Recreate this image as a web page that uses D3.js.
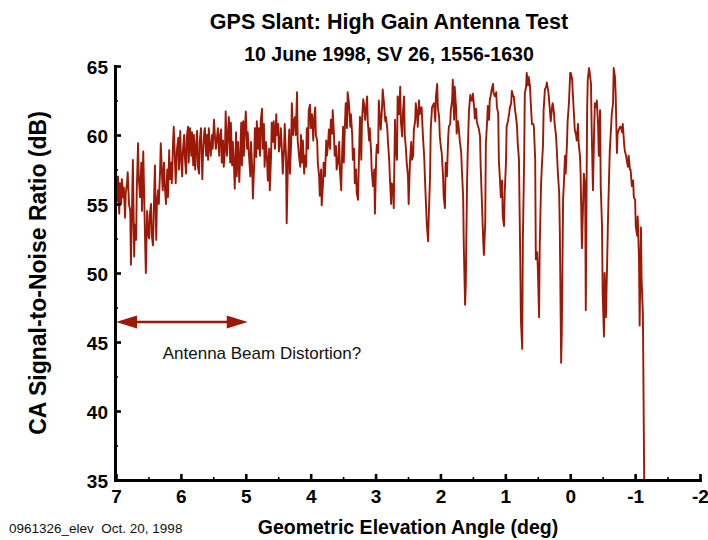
<!DOCTYPE html>
<html><head><meta charset="utf-8">
<script src="https://cdn.jsdelivr.net/npm/d3@7"></script>
<style>
html,body{margin:0;padding:0;background:#fff;}
svg{display:block;}
text{font-family:"Liberation Sans",Arial,Helvetica,sans-serif;}
</style></head><body>
<svg id="chart" width="708" height="540"></svg>
<script>
const titleText = "GPS Slant: High Gain Antenna Test";
const subtitleText = "10 June 1998, SV 26, 1556-1630";
const xAxisTitle = "Geometric Elevation Angle (deg)";
const yAxisTitle = "CA Signal-to-Noise Ratio (dB)";
const footnote = "0961326_elev  Oct. 20, 1998";
const annotationText = "Antenna Beam Distortion?";

const xMajorTicks = [7, 6, 5, 4, 3, 2, 1, 0, -1, -2];
const xMinorTicks = [6.5, 5.5, 4.5, 3.5, 2.5, 1.5, 0.5, -0.5, -1.5];
const yMajorTicks = [35, 40, 45, 50, 55, 60, 65];
const yMinorTicks = [37.5, 42.5, 47.5, 52.5, 57.5, 62.5];

// annotation arrow (elevation span, dB level), text anchor (elevation, dB)
const arrowSpan = [7.0, 4.97];
const arrowLevel = 46.45;
const annotationAt = [6.28, 43.8];

// [geometric elevation angle (deg), CA SNR (dB)]
const snrTrace = [
[7.00,56.6],[6.98,55.2],[6.97,57.0],[6.95,54.3],[6.94,56.5],[6.92,55.0],[6.91,56.8],[6.89,55.5],[6.88,56.2],[6.86,54.0],
[6.85,55.8],[6.83,56.5],[6.82,57.3],[6.80,55.0],[6.78,54.5],[6.77,50.6],[6.75,55.5],[6.74,58.2],[6.72,51.2],[6.71,53.5],
[6.69,52.4],[6.68,56.0],[6.66,59.4],[6.65,57.0],[6.63,55.5],[6.61,58.0],[6.60,54.5],[6.58,58.8],[6.57,56.5],[6.55,52.0],
[6.54,50.0],[6.52,54.5],[6.51,53.0],[6.49,52.5],[6.48,54.2],[6.46,55.0],[6.45,52.8],[6.43,52.0],[6.41,56.0],[6.40,57.8],
[6.38,52.4],[6.37,55.0],[6.35,56.0],[6.34,55.0],[6.32,57.5],[6.31,59.4],[6.29,57.0],[6.28,56.0],[6.26,58.0],[6.25,56.5],
[6.23,55.0],[6.21,57.5],[6.20,55.5],[6.18,58.9],[6.17,56.8],[6.15,58.0],[6.14,56.5],[6.12,59.5],[6.11,60.6],[6.09,58.0],
[6.08,56.5],[6.06,59.0],[6.04,59.8],[6.03,57.5],[6.01,60.3],[6.00,58.5],[5.98,57.0],[5.97,58.8],[5.95,60.0],[5.94,58.5],
[5.92,57.2],[5.91,59.8],[5.89,60.6],[5.88,58.0],[5.86,60.5],[5.84,58.5],[5.83,60.2],[5.81,57.8],[5.80,60.0],[5.78,57.5],
[5.77,59.0],[5.75,60.3],[5.74,57.8],[5.72,57.2],[5.71,59.5],[5.69,60.5],[5.67,56.8],[5.66,58.5],[5.64,60.2],[5.63,60.5],
[5.61,58.5],[5.60,60.0],[5.58,58.2],[5.57,60.5],[5.55,59.0],[5.54,58.5],[5.52,60.0],[5.51,59.0],[5.49,61.1],[5.47,59.5],
[5.46,59.0],[5.44,60.0],[5.43,60.5],[5.41,58.5],[5.40,59.8],[5.38,60.4],[5.37,58.0],[5.35,59.6],[5.34,57.7],[5.32,59.0],
[5.31,61.7],[5.29,58.5],[5.27,60.5],[5.26,61.3],[5.24,58.0],[5.23,60.9],[5.21,57.8],[5.20,59.5],[5.18,57.5],[5.17,56.1],
[5.15,60.2],[5.14,57.0],[5.12,59.5],[5.10,56.6],[5.09,58.0],[5.07,60.9],[5.06,57.8],[5.04,61.0],[5.03,58.5],[5.01,60.8],
[5.00,61.7],[4.98,59.0],[4.97,60.2],[4.95,58.5],[4.93,57.0],[4.92,59.5],[4.90,57.5],[4.89,55.4],[4.87,58.0],[4.86,60.5],
[4.84,58.4],[4.83,61.0],[4.81,59.0],[4.80,60.5],[4.78,58.5],[4.77,61.0],[4.75,61.9],[4.74,59.0],[4.72,60.8],[4.71,57.7],
[4.69,59.5],[4.67,58.0],[4.66,56.7],[4.64,59.0],[4.63,56.0],[4.61,58.5],[4.60,60.9],[4.58,59.5],[4.57,61.0],[4.55,59.0],
[4.53,61.5],[4.52,60.0],[4.50,60.8],[4.49,58.8],[4.47,59.5],[4.46,60.5],[4.44,58.5],[4.43,57.2],[4.41,59.0],[4.40,60.8],
[4.38,58.4],[4.37,53.6],[4.35,58.0],[4.33,60.4],[4.32,57.2],[4.30,59.5],[4.29,62.3],[4.27,60.0],[4.26,61.0],[4.24,61.3],
[4.23,60.0],[4.21,63.1],[4.20,59.6],[4.18,58.5],[4.16,57.7],[4.15,60.0],[4.13,58.0],[4.12,59.6],[4.10,57.2],[4.09,58.5],
[4.07,57.7],[4.06,60.5],[4.04,59.0],[4.03,61.8],[4.01,62.2],[4.00,60.5],[3.98,61.5],[3.96,59.6],[3.95,61.0],[3.93,62.0],
[3.92,60.0],[3.90,59.6],[3.89,58.0],[3.87,57.0],[3.86,55.6],[3.84,57.5],[3.83,54.9],[3.81,56.5],[3.80,58.0],[3.78,57.0],
[3.76,59.6],[3.75,58.5],[3.73,59.4],[3.72,60.4],[3.70,59.0],[3.69,61.1],[3.67,60.1],[3.66,61.8],[3.64,59.9],[3.63,58.5],
[3.61,59.2],[3.60,57.5],[3.58,58.0],[3.56,59.5],[3.55,57.5],[3.53,56.0],[3.52,58.0],[3.50,60.6],[3.49,58.0],[3.47,61.0],
[3.46,62.3],[3.44,60.5],[3.43,63.1],[3.41,62.3],[3.39,60.6],[3.38,61.5],[3.36,60.0],[3.35,58.2],[3.33,59.0],[3.32,56.5],
[3.30,57.5],[3.29,55.8],[3.27,55.3],[3.26,57.5],[3.24,61.3],[3.22,58.2],[3.21,61.0],[3.19,62.6],[3.18,62.3],[3.16,61.1],
[3.15,61.8],[3.13,62.8],[3.12,61.0],[3.10,59.6],[3.09,60.5],[3.07,58.9],[3.06,57.5],[3.04,56.3],[3.02,57.5],[3.01,54.3],
[2.99,58.5],[2.98,59.3],[2.96,58.7],[2.95,62.5],[2.93,61.0],[2.92,60.4],[2.90,62.0],[2.89,63.3],[2.87,62.3],[2.85,61.0],
[2.84,61.3],[2.82,60.5],[2.81,59.6],[2.79,58.2],[2.78,57.0],[2.76,55.0],[2.75,56.5],[2.73,56.3],[2.72,54.7],[2.70,61.1],
[2.69,59.0],[2.67,58.2],[2.66,62.8],[2.64,61.5],[2.62,63.5],[2.61,61.0],[2.59,59.9],[2.58,61.5],[2.56,62.8],[2.55,60.0],
[2.53,58.9],[2.52,58.0],[2.50,57.0],[2.49,55.0],[2.47,58.0],[2.45,59.5],[2.44,58.2],[2.42,58.5],[2.41,60.4],[2.39,61.0],
[2.38,62.3],[2.36,61.5],[2.35,60.6],[2.33,62.5],[2.32,61.5],[2.30,62.0],[2.29,62.0],[2.27,59.9],[2.25,58.4],[2.24,57.0],
[2.22,54.6],[2.21,53.5],[2.19,52.3],[2.18,54.1],[2.16,57.0],[2.15,60.4],[2.13,62.0],[2.12,62.1],[2.10,62.3],[2.08,61.0],
[2.07,62.8],[2.05,63.7],[2.04,62.0],[2.02,61.3],[2.01,59.9],[1.99,59.0],[1.98,58.7],[1.96,57.0],[1.95,55.5],[1.93,54.7],
[1.92,58.0],[1.90,57.0],[1.88,59.9],[1.87,60.6],[1.85,60.8],[1.84,61.8],[1.82,62.5],[1.81,64.0],[1.79,61.1],[1.78,63.5],
[1.76,62.0],[1.75,60.1],[1.73,61.0],[1.72,60.6],[1.70,59.5],[1.68,58.7],[1.67,57.5],[1.65,55.5],[1.64,51.9],[1.62,47.7],
[1.61,49.1],[1.59,56.5],[1.58,58.7],[1.56,61.8],[1.54,62.9],[1.53,62.5],[1.51,62.5],[1.50,63.0],[1.48,62.0],[1.47,61.2],
[1.45,61.9],[1.44,61.0],[1.42,60.6],[1.41,60.5],[1.39,59.9],[1.38,57.7],[1.36,55.0],[1.34,52.2],[1.33,51.3],[1.31,53.6],
[1.30,59.4],[1.28,61.0],[1.27,62.1],[1.25,61.1],[1.24,62.5],[1.22,63.0],[1.21,63.3],[1.19,63.7],[1.18,63.0],[1.16,62.8],
[1.14,63.1],[1.13,62.0],[1.11,61.6],[1.10,58.2],[1.08,56.5],[1.07,55.5],[1.05,56.7],[1.04,54.1],[1.02,53.4],[1.01,55.8],
[0.99,58.0],[0.98,60.6],[0.96,61.0],[0.94,61.6],[0.93,62.0],[0.91,62.3],[0.90,63.2],[0.88,62.8],[0.87,62.8],[0.85,61.8],
[0.84,61.5],[0.82,60.6],[0.81,59.5],[0.79,58.2],[0.77,51.0],[0.76,46.6],[0.74,44.5],[0.73,52.4],[0.71,58.2],[0.70,63.0],
[0.68,63.5],[0.67,64.5],[0.65,63.6],[0.64,64.2],[0.62,63.5],[0.61,62.5],[0.59,60.8],[0.57,60.8],[0.56,60.6],[0.54,58.2],
[0.53,51.0],[0.51,51.5],[0.50,50.5],[0.48,46.8],[0.47,51.9],[0.45,56.3],[0.44,57.5],[0.42,59.2],[0.41,61.8],[0.39,63.3],
[0.37,63.5],[0.36,63.8],[0.34,63.2],[0.33,62.8],[0.31,61.6],[0.30,61.0],[0.28,62.0],[0.27,62.3],[0.25,61.6],[0.24,60.8],
[0.22,60.0],[0.21,59.2],[0.19,57.2],[0.17,55.8],[0.16,53.0],[0.14,43.5],[0.13,45.7],[0.11,55.3],[0.10,56.3],[0.08,58.5],
[0.07,57.2],[0.05,59.4],[0.04,61.0],[0.02,62.3],[0.00,64.5],[-0.01,64.5],[-0.03,64.0],[-0.04,63.0],[-0.06,61.3],[-0.07,60.4],
[-0.09,60.0],[-0.10,59.6],[-0.12,60.8],[-0.13,59.4],[-0.15,58.5],[-0.16,57.2],[-0.18,51.8],[-0.20,55.3],[-0.21,57.2],[-0.23,56.3],
[-0.24,47.3],[-0.26,61.6],[-0.27,64.0],[-0.29,64.85],[-0.30,64.5],[-0.32,63.7],[-0.33,60.6],[-0.35,56.0],[-0.37,60.6],[-0.38,62.3],
[-0.40,62.0],[-0.41,62.5],[-0.43,60.6],[-0.44,58.5],[-0.46,61.8],[-0.47,56.3],[-0.49,53.4],[-0.50,48.5],[-0.52,45.4],[-0.53,50.0],
[-0.55,46.8],[-0.57,51.0],[-0.58,53.4],[-0.60,57.2],[-0.61,58.9],[-0.63,60.6],[-0.64,61.5],[-0.66,62.3],[-0.67,64.85],[-0.69,64.2],
[-0.70,63.0],[-0.72,58.7],[-0.73,60.1],[-0.75,60.4],[-0.77,60.6],[-0.78,60.6],[-0.80,60.2],[-0.81,60.8],[-0.83,59.4],[-0.84,58.9],
[-0.86,58.5],[-0.87,58.2],[-0.89,57.7],[-0.90,58.5],[-0.92,57.5],[-0.93,57.5],[-0.95,56.3],[-0.97,56.7],[-0.98,55.5],[-1.00,55.3],
[-1.01,53.4],[-1.03,52.7],[-1.04,54.1],[-1.06,51.0],[-1.07,46.2],[-1.09,53.3],[-1.10,49.5],[-1.12,47.0],[-1.14,35.0]
];

const red = "#9b1906";
const svg = d3.select("#chart");

const x = d3.scaleLinear().domain([7, -2]).range([116, 700]);
const y = d3.scaleLinear().domain([35, 65]).range([480, 66]);

// trace
const line = d3.line().x(d => x(d[0])).y(d => y(d[1]));
svg.append("path")
  .datum(snrTrace)
  .attr("d", line)
  .attr("fill", "none")
  .attr("stroke", red)
  .attr("stroke-width", 1.9)
  .attr("stroke-linejoin", "round");

// axes
const fmt = d => String(d);
const styleAxis = g => {
  g.select(".domain").attr("stroke", "#000").attr("stroke-width", 3).attr("stroke-linecap", "square");
  g.selectAll(".tick line").attr("stroke", "#000").attr("stroke-width", 2.6);
  g.selectAll(".tick text").attr("fill", "#000")
    .style("font-family", '"Liberation Sans", Arial, sans-serif')
    .style("font-weight", "bold").style("font-size", "19px");
};

const gyMinor = svg.append("g").attr("transform", `translate(${x(7) - 1},0)`)
  .call(d3.axisLeft(y).tickValues(yMinorTicks).tickSizeInner(-3).tickSizeOuter(0).tickFormat(""));
gyMinor.select(".domain").remove();
gyMinor.selectAll(".tick line").attr("stroke", "#000").attr("stroke-width", 1.6);

const gxMinor = svg.append("g").attr("transform", `translate(0,${y(35)})`)
  .call(d3.axisBottom(x).tickValues(xMinorTicks).tickSizeInner(-3).tickSizeOuter(0).tickFormat(""));
gxMinor.select(".domain").remove();
gxMinor.selectAll(".tick line").attr("stroke", "#000").attr("stroke-width", 1.6);

const gy = svg.append("g").attr("transform", `translate(${x(7) - 1},0)`)
  .call(d3.axisLeft(y).tickValues(yMajorTicks).tickSizeInner(-6).tickSizeOuter(0).tickPadding(7).tickFormat(fmt))
  .call(styleAxis);
gy.selectAll(".tick text").attr("dy", "0.40em");

const gx = svg.append("g").attr("transform", `translate(0,${y(35)})`)
  .call(d3.axisBottom(x).tickValues(xMajorTicks).tickSizeInner(-6).tickSizeOuter(0).tickPadding(10).tickFormat(fmt))
  .call(styleAxis);

// titles
svg.append("text").attr("x", 389).attr("y", 28.5).attr("text-anchor", "middle")
  .style("font-weight", "bold").style("font-size", "21.5px").text(titleText);
svg.append("text").attr("x", 389).attr("y", 61).attr("text-anchor", "middle")
  .style("font-weight", "bold").style("font-size", "19.5px").text(subtitleText);
svg.append("text").attr("x", (x(7) + x(-2)) / 2).attr("y", 534).attr("text-anchor", "middle")
  .style("font-weight", "bold").style("font-size", "19.5px").text(xAxisTitle);
svg.append("text").attr("transform", `translate(46,${(y(35) + y(65)) / 2}) rotate(-90)`).attr("text-anchor", "middle")
  .style("font-weight", "bold").style("font-size", "23px").text(yAxisTitle);
svg.append("text").attr("x", 9).attr("y", 533).style("white-space", "pre")
  .style("font-size", "13.5px").attr("fill", "#111").text(footnote);

// annotation arrow
const ay = y(arrowLevel);
const ax0 = x(arrowSpan[0]), ax1 = x(arrowSpan[1]);
const headL = 21, headW = 6.5;
svg.append("line").attr("x1", ax0 + headL - 2).attr("x2", ax1 - headL + 2).attr("y1", ay).attr("y2", ay)
  .attr("stroke", red).attr("stroke-width", 2.4);
svg.append("path").attr("d", `M${ax0},${ay}L${ax0 + headL},${ay - headW}L${ax0 + headL},${ay + headW}Z`).attr("fill", red);
svg.append("path").attr("d", `M${ax1},${ay}L${ax1 - headL},${ay - headW}L${ax1 - headL},${ay + headW}Z`).attr("fill", red);
svg.append("text").attr("x", x(annotationAt[0])).attr("y", y(annotationAt[1]))
  .style("font-size", "17px").attr("fill", "#111").text(annotationText);
</script>
</body></html>
